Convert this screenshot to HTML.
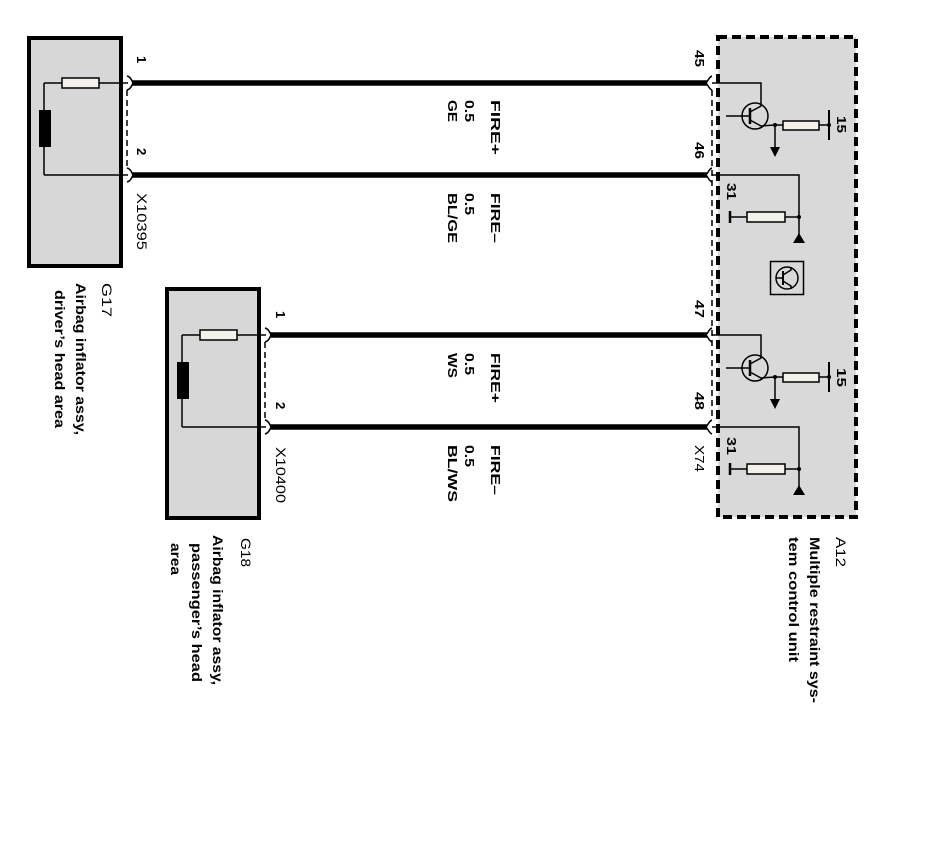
<!DOCTYPE html>
<html>
<head>
<meta charset="utf-8">
<style>
html,body{margin:0;padding:0;background:#fff;}
svg{display:block;}
text{font-family:"Liberation Sans",Arial,sans-serif;fill:#000;}
.b{font-weight:bold;}
</style>
</head>
<body>
<svg width="927" height="847" viewBox="0 0 927 847" xmlns="http://www.w3.org/2000/svg">
<rect x="0" y="0" width="927" height="847" fill="#fff"/>

<!-- A12 dashed box -->
<rect x="718" y="37" width="138" height="480" fill="#d9d9d9" stroke="#000" stroke-width="4" stroke-dasharray="9 5"/>

<!-- ===== G17 ===== -->
<g id="g17">
  <rect x="29" y="38" width="92" height="228" fill="#d7d7d7" stroke="#000" stroke-width="4"/>
  <g stroke="#000" stroke-width="1.5" fill="none">
    <line x1="44" y1="83" x2="62" y2="83"/>
    <line x1="99" y1="83" x2="128" y2="83"/>
    <line x1="44" y1="83" x2="44" y2="175"/>
    <line x1="44" y1="175" x2="128" y2="175"/>
    <path d="M127,76 C131,77 132,81 133,83 C132,85 131,89 127,90"/>
    <path d="M127,168 C131,169 132,173 133,175 C132,177 131,181 127,182"/>
    <line x1="127" y1="90" x2="127" y2="168" stroke-dasharray="6 4"/>
  </g>
  <rect x="62" y="78" width="37" height="10" fill="#f2f2ea" stroke="#000" stroke-width="1.5"/>
  <rect x="39" y="110" width="12" height="37" fill="#000"/>
</g>

<!-- ===== G18 (shifted) ===== -->
<g transform="translate(138,252)">
  <rect x="29" y="37" width="92" height="229" fill="#d7d7d7" stroke="#000" stroke-width="4"/>
  <g stroke="#000" stroke-width="1.5" fill="none">
    <line x1="44" y1="83" x2="62" y2="83"/>
    <line x1="99" y1="83" x2="128" y2="83"/>
    <line x1="44" y1="83" x2="44" y2="175"/>
    <line x1="44" y1="175" x2="128" y2="175"/>
    <path d="M127,76 C131,77 132,81 133,83 C132,85 131,89 127,90"/>
    <path d="M127,168 C131,169 132,173 133,175 C132,177 131,181 127,182"/>
    <line x1="127" y1="90" x2="127" y2="168" stroke-dasharray="6 4"/>
  </g>
  <rect x="62" y="78" width="37" height="10" fill="#f2f2ea" stroke="#000" stroke-width="1.5"/>
  <rect x="39" y="110" width="12" height="37" fill="#000"/>
</g>

<!-- Thick wires -->
<g stroke="#000" stroke-width="5.5">
  <line x1="132" y1="83" x2="707" y2="83"/>
  <line x1="132" y1="175" x2="707" y2="175"/>
  <line x1="270" y1="335" x2="707" y2="335"/>
  <line x1="270" y1="427" x2="707" y2="427"/>
</g>

<!-- A12 connector brackets and thin dashed line -->
<g stroke="#000" stroke-width="1.5" fill="none">
  <path d="M712,76 C709,77 708,81 706,83 C708,85 709,89 712,90"/>
  <path d="M712,168 C709,169 708,173 706,175 C708,177 709,181 712,182"/>
  <path d="M712,328 C709,329 708,333 706,335 C708,337 709,341 712,342"/>
  <path d="M712,420 C709,421 708,425 706,427 C708,429 709,433 712,434"/>
  <line x1="712" y1="90" x2="712" y2="420" stroke-dasharray="6 4"/>
</g>

<!-- A12 internal circuits (two copies) -->
<g id="circ1">
  <g stroke="#000" stroke-width="1.5" fill="none">
    <polyline points="712,83 761,83 761,106 750,112"/>
    <circle cx="755" cy="116" r="13"/>
    <line x1="726" y1="116" x2="750" y2="116"/>
    <polyline points="750,120 761,126 775,125"/>
    <line x1="775" y1="125" x2="783" y2="125"/>
    <line x1="819" y1="125" x2="829" y2="125"/>
    <line x1="775" y1="125" x2="775" y2="148"/>
    <polyline points="712,175 799,175 799,236"/>
    <line x1="730" y1="217" x2="747" y2="217"/>
    <line x1="785" y1="217" x2="799" y2="217"/>
  </g>
  <line x1="750" y1="108" x2="750" y2="124" stroke="#000" stroke-width="2.5"/>
  <rect x="783" y="121" width="36" height="9" fill="#f2f2ea" stroke="#000" stroke-width="1.5"/>
  <line x1="829" y1="110" x2="829" y2="140" stroke="#000" stroke-width="2"/>
  <circle cx="829" cy="125" r="2" fill="#000"/>
  <circle cx="775" cy="125" r="2" fill="#000"/>
  <polygon points="770,147 780,147 775,157" fill="#000"/>
  <rect x="747" y="212" width="38" height="10" fill="#f2f2ea" stroke="#000" stroke-width="1.5"/>
  <line x1="730" y1="211" x2="730" y2="223" stroke="#000" stroke-width="2.5"/>
  <circle cx="799" cy="217" r="2" fill="#000"/>
  <polygon points="799,233 793,243 805,243" fill="#000"/>
</g>
<g transform="translate(0,252)">
  <g stroke="#000" stroke-width="1.5" fill="none">
    <polyline points="712,83 761,83 761,106 750,112"/>
    <circle cx="755" cy="116" r="13"/>
    <line x1="726" y1="116" x2="750" y2="116"/>
    <polyline points="750,120 761,126 775,125"/>
    <line x1="775" y1="125" x2="783" y2="125"/>
    <line x1="819" y1="125" x2="829" y2="125"/>
    <line x1="775" y1="125" x2="775" y2="148"/>
    <polyline points="712,175 799,175 799,236"/>
    <line x1="730" y1="217" x2="747" y2="217"/>
    <line x1="785" y1="217" x2="799" y2="217"/>
  </g>
  <line x1="750" y1="108" x2="750" y2="124" stroke="#000" stroke-width="2.5"/>
  <rect x="783" y="121" width="36" height="9" fill="#f2f2ea" stroke="#000" stroke-width="1.5"/>
  <line x1="829" y1="110" x2="829" y2="140" stroke="#000" stroke-width="2"/>
  <circle cx="829" cy="125" r="2" fill="#000"/>
  <circle cx="775" cy="125" r="2" fill="#000"/>
  <polygon points="770,147 780,147 775,157" fill="#000"/>
  <rect x="747" y="212" width="38" height="10" fill="#f2f2ea" stroke="#000" stroke-width="1.5"/>
  <line x1="730" y1="211" x2="730" y2="223" stroke="#000" stroke-width="2.5"/>
  <circle cx="799" cy="217" r="2" fill="#000"/>
  <polygon points="799,233 793,243 805,243" fill="#000"/>
</g>

<!-- Icon -->
<g stroke="#000" fill="none">
  <rect x="770.5" y="261.5" width="33" height="33" stroke-width="1.5"/>
  <circle cx="787" cy="278" r="11" stroke-width="1.5"/>
  <line x1="783" y1="271" x2="783" y2="285" stroke-width="2"/>
  <line x1="776" y1="278" x2="783" y2="278" stroke-width="1.5"/>
  <polyline points="783,275 791,270 791,267" stroke-width="1.5"/>
  <polyline points="783,281 791,286 791,289" stroke-width="1.5"/>
</g>

<!-- ===== TEXT (rotated 90° clockwise) ===== -->
<!-- G17 pins / connector -->
<text class="b" font-size="13" transform="translate(137,56) rotate(90)">1</text>
<text class="b" font-size="13" transform="translate(137,148) rotate(90)">2</text>
<text font-size="14" transform="translate(137,193) rotate(90)" textLength="57" lengthAdjust="spacingAndGlyphs">X10395</text>
<text font-size="14" transform="translate(102,283) rotate(90)" textLength="34" lengthAdjust="spacingAndGlyphs">G17</text>
<text class="b" font-size="14" transform="translate(76,283) rotate(90)" textLength="152" lengthAdjust="spacingAndGlyphs">Airbag inflator assy,</text>
<text class="b" font-size="14" transform="translate(55,290) rotate(90)" textLength="138" lengthAdjust="spacingAndGlyphs">driver’s head area</text>

<!-- G18 -->
<text class="b" font-size="13" transform="translate(276,311) rotate(90)">1</text>
<text class="b" font-size="13" transform="translate(276,402) rotate(90)">2</text>
<text font-size="14" transform="translate(276,447) rotate(90)" textLength="56" lengthAdjust="spacingAndGlyphs">X10400</text>
<text font-size="14" transform="translate(241,538) rotate(90)" textLength="29" lengthAdjust="spacingAndGlyphs">G18</text>
<text class="b" font-size="14" transform="translate(213,535) rotate(90)" textLength="150" lengthAdjust="spacingAndGlyphs">Airbag inflator assy,</text>
<text class="b" font-size="14" transform="translate(192,543) rotate(90)" textLength="139" lengthAdjust="spacingAndGlyphs">passenger’s head</text>
<text class="b" font-size="14" transform="translate(171,543) rotate(90)" textLength="32" lengthAdjust="spacingAndGlyphs">area</text>

<!-- Wire labels group 1 -->
<text class="b" font-size="13" transform="translate(491,100) rotate(90)" textLength="55" lengthAdjust="spacingAndGlyphs">FIRE+</text>
<text class="b" font-size="13" transform="translate(465,100) rotate(90)" textLength="22" lengthAdjust="spacingAndGlyphs">0.5</text>
<text class="b" font-size="13" transform="translate(448,100) rotate(90)" textLength="22" lengthAdjust="spacingAndGlyphs">GE</text>
<text class="b" font-size="13" transform="translate(491,193) rotate(90)" textLength="50" lengthAdjust="spacingAndGlyphs">FIRE–</text>
<text class="b" font-size="13" transform="translate(465,193) rotate(90)" textLength="22" lengthAdjust="spacingAndGlyphs">0.5</text>
<text class="b" font-size="13" transform="translate(448,193) rotate(90)" textLength="50" lengthAdjust="spacingAndGlyphs">BL/GE</text>

<!-- Wire labels group 2 -->
<text class="b" font-size="13" transform="translate(491,353) rotate(90)" textLength="50" lengthAdjust="spacingAndGlyphs">FIRE+</text>
<text class="b" font-size="13" transform="translate(465,353) rotate(90)" textLength="22" lengthAdjust="spacingAndGlyphs">0.5</text>
<text class="b" font-size="13" transform="translate(448,353) rotate(90)" textLength="25" lengthAdjust="spacingAndGlyphs">WS</text>
<text class="b" font-size="13" transform="translate(491,445) rotate(90)" textLength="50" lengthAdjust="spacingAndGlyphs">FIRE–</text>
<text class="b" font-size="13" transform="translate(465,445) rotate(90)" textLength="22" lengthAdjust="spacingAndGlyphs">0.5</text>
<text class="b" font-size="13" transform="translate(448,445) rotate(90)" textLength="57" lengthAdjust="spacingAndGlyphs">BL/WS</text>

<!-- A12 pins -->
<text class="b" font-size="13" transform="translate(695,50) rotate(90)" textLength="17" lengthAdjust="spacingAndGlyphs">45</text>
<text class="b" font-size="13" transform="translate(695,142) rotate(90)" textLength="17" lengthAdjust="spacingAndGlyphs">46</text>
<text class="b" font-size="13" transform="translate(695,300) rotate(90)" textLength="18" lengthAdjust="spacingAndGlyphs">47</text>
<text class="b" font-size="13" transform="translate(695,392) rotate(90)" textLength="18" lengthAdjust="spacingAndGlyphs">48</text>
<text font-size="13" transform="translate(695,445) rotate(90)" textLength="27" lengthAdjust="spacingAndGlyphs">X74</text>
<text class="b" font-size="13" transform="translate(727,183) rotate(90)" textLength="17" lengthAdjust="spacingAndGlyphs">31</text>
<text class="b" font-size="13" transform="translate(727,437) rotate(90)" textLength="18" lengthAdjust="spacingAndGlyphs">31</text>
<text class="b" font-size="13" transform="translate(837,116) rotate(90)" textLength="17" lengthAdjust="spacingAndGlyphs">15</text>
<text class="b" font-size="13" transform="translate(837,368) rotate(90)" textLength="19" lengthAdjust="spacingAndGlyphs">15</text>

<!-- A12 labels -->
<text font-size="14" transform="translate(836,537) rotate(90)" textLength="30" lengthAdjust="spacingAndGlyphs">A12</text>
<text class="b" font-size="14" transform="translate(810,537) rotate(90)" textLength="166" lengthAdjust="spacingAndGlyphs">Multiple restraint sys-</text>
<text class="b" font-size="14" transform="translate(789,537) rotate(90)" textLength="125" lengthAdjust="spacingAndGlyphs">tem  control unit</text>
</svg>
</body>
</html>
